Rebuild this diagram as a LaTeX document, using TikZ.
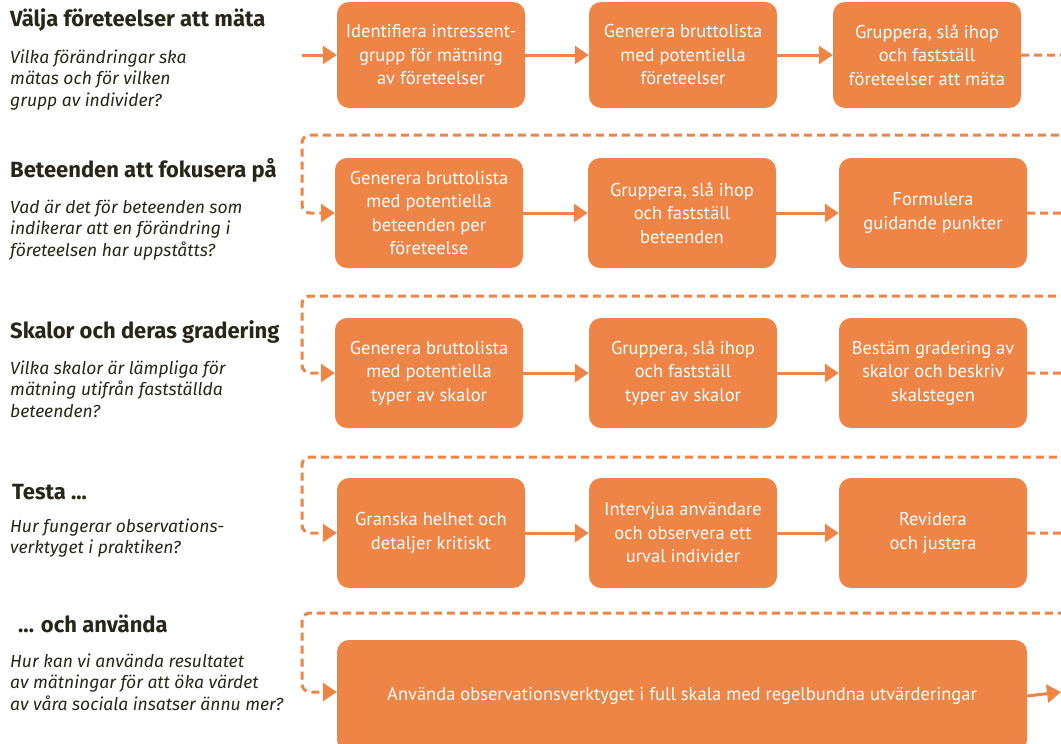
\documentclass[tikz,border=0pt]{standalone}
\usepackage{fontspec}
\setmainfont{PT Sans}
\newfontfamily\rubrikfont{Fira Sans}
\usetikzlibrary{arrows.meta}
\definecolor{stegorange}{HTML}{EE8445}
\definecolor{morkt}{HTML}{28251A}

\begin{document}
\begin{tikzpicture}[x=1pt, y=-1pt,
    steg/.style={fill=stegorange, rounded corners=12pt, minimum width=188pt,
      minimum height=110pt, inner sep=0pt, align=center, text=white,
      font=\fontsize{18.5}{23.5}\selectfont},
    pil/.style={draw=stegorange, line width=3pt, -{Triangle[length=14pt, width=18pt]}},
    streckpil/.style={pil, dash pattern=on 8pt off 5pt, rounded corners=8pt},
    rubrik/.style={anchor=base west, inner sep=0pt, text=morkt,
      font=\rubrikfont\fontsize{22}{26}\selectfont\bfseries},
    fraga/.style={anchor=north west, inner sep=0pt, align=left, text=morkt,
      font=\rubrikfont\fontsize{17.5}{21.5}\selectfont\itshape}]

    \useasboundingbox (0,0) rectangle (1061,744);
    \clip (0,0) rectangle (1061,744);

    % Left column: headings and questions
    \node[rubrik] (r1) at (10,27) {Välja företeelser att mäta};
    \node[fraga] (q1) at (10,48) {\strut Vilka förändringar ska\\mätas och för vilken\\grupp av individer?};
    \node[rubrik] (r2) at (10,177) {Beteenden att fokusera på};
    \node[fraga] (q2) at (10,198) {\strut Vad är det för beteenden som\\indikerar att en förändring i\\företeelsen har uppståtts?};
    \node[rubrik] (r3) at (10,338) {Skalor och deras gradering};
    \node[fraga] (q3) at (10,359) {\strut Vilka skalor är lämpliga för\\mätning utifrån fastställda\\beteenden?};
    \node[rubrik] (r4) at (12,499) {Testa ...};
    \node[fraga] (q4) at (10,517) {\strut Hur fungerar observations-\\verktyget i praktiken?};
    \node[rubrik] (r5) at (18,632) {... och använda};
    \node[fraga] (q5) at (10,652) {\strut Hur kan vi använda resultatet\\av mätningar för att öka värdet\\av våra sociala insatser ännu mer?};

    % Row 1
    \node[steg, minimum height=106pt] (a1) at (431,55) {Identifiera intressent-\\grupp för mätning\\av företeelser};
    \node[steg, minimum height=106pt] (a2) at (683,55) {Generera bruttolista\\med potentiella\\företeelser};
    \node[steg, minimum height=106pt] (a3) at (927,55) {Gruppera, slå ihop\\och fastställ\\företeelser att mäta};

    % Row 2
    \node[steg] (b1) at (429,213) {Generera bruttolista\\med potentiella\\beteenden per\\företeelse};
    \node[steg] (b2) at (682,213) {Gruppera, slå ihop\\och fastställ\\beteenden};
    \node[steg] (b3) at (933,213) {Formulera\\guidande punkter};

    % Row 3
    \node[steg] (c1) at (429,373) {Generera bruttolista\\med potentiella\\typer av skalor};
    \node[steg] (c2) at (683,373) {Gruppera, slå ihop\\och fastställ\\typer av skalor};
    \node[steg] (c3) at (933,373) {Bestäm gradering av\\skalor och beskriv\\skalstegen};

    % Row 4
    \node[steg] (d1) at (431,533) {Granska helhet och\\detaljer kritiskt};
    \node[steg] (d2) at (683,533) {Intervjua användare\\och observera ett\\urval individer};
    \node[steg] (d3) at (933,533) {Revidera\\och justera};

    % Row 5
    \node[steg, minimum width=690pt, minimum height=112pt] (e1) at (682,696)
      {Använda observationsverktyget i full skala med regelbundna utvärderingar};

    % Free ends and turning points
    \coordinate (start) at (302,55);
    \coordinate (hoger) at (1075,0);
    \coordinate (slut) at (1061,692);
    \coordinate (k2) at (302,135);
    \coordinate (k3) at (302,296);
    \coordinate (k4) at (302,457);
    \coordinate (k5) at (302,613);

    % Solid arrows
    \draw[pil] (start) -- (a1.west);
    \draw[pil] (a1) -- (a2);
    \draw[pil] (a2) -- (a3);
    \draw[pil] (b1) -- (b2);
    \draw[pil] (b2) -- (b3);
    \draw[pil] (c1) -- (c2);
    \draw[pil] (c2) -- (c3);
    \draw[pil] (d1) -- (d2);
    \draw[pil] (d2) -- (d3);
    \draw[pil] (e1.east) -- (slut);

    % Dashed links between rows
    \draw[streckpil] (a3.east) -- (a3.east -| hoger) |- (k2) |- (b1.west);
    \draw[streckpil] (b3.east) -- (b3.east -| hoger) |- (k3) |- (c1.west);
    \draw[streckpil] (c3.east) -- (c3.east -| hoger) |- (k4) |- (d1.west);
    \draw[streckpil] (d3.east) -- (d3.east -| hoger) |- (k5) |- (e1.west |- slut);
\end{tikzpicture}
\end{document}
